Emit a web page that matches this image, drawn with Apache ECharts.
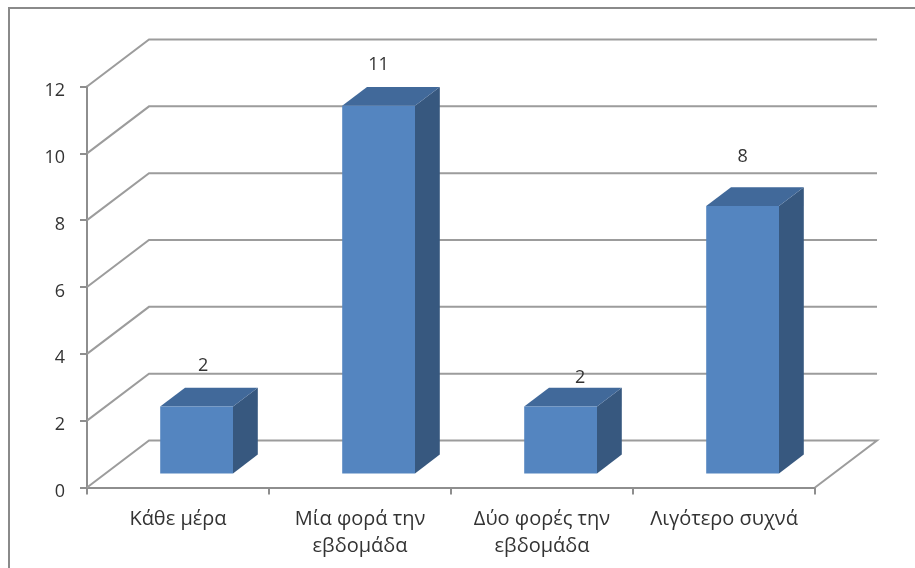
<!DOCTYPE html>
<html>
<head>
<meta charset="utf-8">
<style>html,body{margin:0;padding:0;background:#fff}#c{width:915px;height:568px}</style>
<script src="https://cdn.jsdelivr.net/npm/echarts@6/dist/echarts.min.js"></script>
</head>
<body>
<div id="c"></div>
<script>
var categories = ['Κάθε μέρα', 'Μία φορά την\nεβδομάδα', 'Δύο φορές την\nεβδομάδα', 'Λιγότερο συχνά'];
var values = [2, 11, 2, 8];
var yTicks = [0, 2, 4, 6, 8, 10, 12];
var labelShiftX = [6.5, 0, 19.5, 0];
var labelShiftY = [-41, -41, -29, -49];

var DX = 62, DY = -47;
var FONT = '"Open Sans", "Noto Sans", sans-serif';
var TEXT = '#333333', LINE = '#9c9c9c', AXIS = '#8e8e8e';

var chart = echarts.init(document.getElementById('c'), null, {renderer: 'canvas'});
chart.setOption({
  animation: false,
  backgroundColor: '#ffffff',
  grid: {left: 87, right: 100, top: 86.5, bottom: 80.5, containLabel: false},
  xAxis: {
    type: 'category', data: categories, boundaryGap: true,
    axisLine: {show: true, lineStyle: {color: AXIS, width: 2}},
    axisTick: {show: true, alignWithLabel: false, length: 7, lineStyle: {color: AXIS, width: 2}},
    axisLabel: {color: TEXT, fontFamily: FONT, fontSize: 20, lineHeight: 27, margin: 18, interval: 0},
    splitLine: {show: false}
  },
  yAxis: {
    type: 'value', min: 0, max: 12, interval: 2,
    axisLine: {show: true, lineStyle: {color: AXIS, width: 2}},
    axisTick: {show: true, length: 7, lineStyle: {color: AXIS, width: 2}},
    axisLabel: {color: TEXT, fontFamily: FONT, fontSize: 18, margin: 22, verticalAlign: 'top', lineHeight: 9},
    splitLine: {show: false}
  },
  graphic: [{
    type: 'polyline', silent: true, z: 0,
    shape: {points: [[9, 568], [9, 8], [915, 8]]},
    style: {fill: null, stroke: '#8a8a8a', lineWidth: 2}
  }],
  series: [
    {
      type: 'custom', name: 'walls', coordinateSystem: 'cartesian2d', clip: false, z: 1,
      data: yTicks.map(function (t) { return [0, t]; }),
      encode: {x: 0, y: 1},
      renderItem: function (params, api) {
        var cs = params.coordSys;
        var v = api.value(1);
        var y = api.coord([0, v])[1];
        var pts = [[cs.x, y], [cs.x + DX, y + DY], [cs.x + cs.width + DX, y + DY]];
        if (v === 0) { pts.push([cs.x + cs.width, y]); }
        return {
          type: 'polyline', silent: true,
          shape: {points: pts},
          style: {fill: null, stroke: LINE, lineWidth: 2}
        };
      }
    },
    {
      type: 'custom', name: 'bars', coordinateSystem: 'cartesian2d', clip: false, z: 3,
      data: values.map(function (v, i) { return [i, v]; }),
      encode: {x: 0, y: 1},
      renderItem: function (params, api) {
        var i = api.value(0), v = api.value(1);
        var bw = api.size([1, 0])[0] * 0.4;
        var ox = DX * 0.3, oy = DY * 0.3;
        var ddx = DX * 0.4, ddy = DY * 0.4;
        var top = api.coord([i, v]), base = api.coord([i, 0]);
        var l = top[0] - bw / 2 + ox, r = l + bw;
        var t = top[1] + oy, b = base[1] + oy;
        return {
          type: 'group',
          children: [
            {type: 'polygon', shape: {points: [[r, t], [r + ddx, t + ddy], [r + ddx, b + ddy], [r, b]]},
              style: {fill: '#37587f'}},
            {type: 'polygon', shape: {points: [[l, t], [l + ddx, t + ddy], [r + ddx, t + ddy], [r, t]]},
              style: {fill: '#41699a'}},
            {type: 'rect', shape: {x: l, y: t, width: bw, height: b - t},
              style: {fill: '#5485c0'}},
            {type: 'text', x: (l + r) / 2 + labelShiftX[i], y: t + labelShiftY[i],
              style: {text: String(v), fill: TEXT, font: '18px ' + FONT, textAlign: 'center', textVerticalAlign: 'middle'}}
          ]
        };
      }
    }
  ]
});
</script>
</body>
</html>
